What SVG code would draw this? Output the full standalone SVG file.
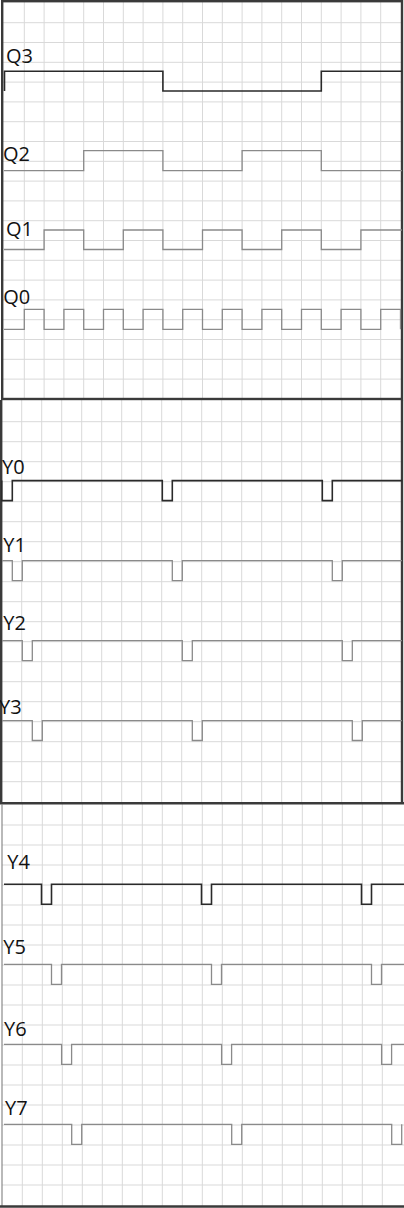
<svg xmlns="http://www.w3.org/2000/svg" width="404" height="1208" viewBox="0 0 404 1208">
<style>
.bg{fill:#ffffff}
.grid{stroke:#d9d9d9;stroke-width:1;fill:none}
.frame{stroke:#3a3a3a;stroke-width:2.4;fill:none}
.sig1{stroke:#2a2a2a;stroke-width:1.6;fill:none}
.sig{stroke:#8a8a8a;stroke-width:1.3;fill:none}
.lbl{font-family:"Open Sans","Liberation Sans",sans-serif;font-size:20px;fill:#111}
</style>
<rect class="bg" x="0" y="0" width="404" height="1208"/>
<g id="grid">
<path class="grid" d="M24.3,2V399M44.1,2V399M63.9,2V399M83.7,2V399M103.5,2V399M123.3,2V399M143.1,2V399M162.9,2V399M182.7,2V399M202.5,2V399M222.3,2V399M242.1,2V399M261.9,2V399M281.7,2V399M301.5,2V399M321.3,2V399M341.1,2V399M360.9,2V399M380.7,2V399M3,22.7H402M3,42.5H402M3,62.3H402M3,82.1H402M3,101.9H402M3,121.7H402M3,141.5H402M3,161.3H402M3,181.1H402M3,200.9H402M3,220.7H402M3,240.5H402M3,260.3H402M3,280.1H402M3,299.9H402M3,319.7H402M3,339.5H402M3,359.3H402M3,379.1H402"/>
<path class="grid" d="M21.7,400V803M41.7,400V803M61.7,400V803M81.7,400V803M101.7,400V803M121.7,400V803M141.7,400V803M161.7,400V803M181.7,400V803M201.7,400V803M221.7,400V803M241.7,400V803M261.7,400V803M281.7,400V803M301.7,400V803M321.7,400V803M341.7,400V803M361.7,400V803M381.7,400V803M1,421.7H402M1,441.7H402M1,461.7H402M1,481.7H402M1,501.7H402M1,521.7H402M1,541.7H402M1,561.7H402M1,581.7H402M1,601.7H402M1,621.7H402M1,641.7H402M1,661.7H402M1,681.7H402M1,701.7H402M1,721.7H402M1,741.7H402M1,761.7H402M1,781.7H402"/>
<path class="grid" d="M22.3,804V1206M42.3,804V1206M62.3,804V1206M82.3,804V1206M102.3,804V1206M122.3,804V1206M142.3,804V1206M162.3,804V1206M182.3,804V1206M202.3,804V1206M222.3,804V1206M242.3,804V1206M262.3,804V1206M282.3,804V1206M302.3,804V1206M322.3,804V1206M342.3,804V1206M362.3,804V1206M382.3,804V1206M2,825H404M2,845H404M2,865H404M2,885H404M2,905H404M2,925H404M2,945H404M2,965H404M2,985H404M2,1005H404M2,1025H404M2,1045H404M2,1065H404M2,1085H404M2,1105H404M2,1125H404M2,1145H404M2,1165H404M2,1185H404"/>
</g>
<g id="frames">
<rect class="frame" x="2.2" y="1.2" width="399.8" height="397.8"/>
<path class="frame" d="M1.2,400V803.3M402,400V803.3M0,803.3H404"/>
<path d="M2,804V1206" stroke="#8a8a8a" stroke-width="1.2" fill="none"/>
<path class="frame" d="M0,1206.5H404"/>
</g>
<g id="Q3"><text class="lbl" x="6" y="63">Q3</text><path class="sig1" d="M4.5,91V71.3H162.9V91H321.3V71.3H402"/></g>
<g id="Q2"><text class="lbl" x="3" y="161">Q2</text><path class="sig" d="M4,170.7H83.7V150.7H162.9V170.7H242.1V150.7H321.3V170.7H402"/></g>
<g id="Q1"><text class="lbl" x="6" y="236">Q1</text><path class="sig" d="M4,249.5H44.1V230H83.7V249.5H123.3V230H162.9V249.5H202.5V230H242.1V249.5H281.7V230H321.3V249.5H360.9V230H402"/></g>
<g id="Q0"><text class="lbl" x="3.3" y="304">Q0</text><path class="sig" d="M4,329.3H24.3V309.3H44.1V329.3H63.9V309.3H83.7V329.3H103.5V309.3H123.3V329.3H143.1V309.3H162.9V329.3H182.7V309.3H202.5V329.3H222.3V309.3H242.1V329.3H261.9V309.3H281.7V329.3H301.5V309.3H321.3V329.3H341.1V309.3H360.9V329.3H380.7V309.3H400.5V329.3"/></g>
<g id="Y0"><text class="lbl" x="2" y="474">Y0</text><path class="sig1" d="M1.7,480.6V500.6H12.3V480.6H162.3V500.6H172.3V480.6H322.3V500.6H332.3V480.6H402"/></g>
<g id="Y1"><text class="lbl" x="3.3" y="551.5">Y1</text><path class="sig" d="M2,560.7H12.3V580.7H22.3V560.7H172.3V580.7H182.3V560.7H332.3V580.7H342.3V560.7H402"/></g>
<g id="Y2"><text class="lbl" x="3.3" y="630">Y2</text><path class="sig" d="M2,640.7H22.3V660.7H32.3V640.7H182.3V660.7H192.3V640.7H342.3V660.7H352.3V640.7H402"/></g>
<g id="Y3"><text class="lbl" x="-1" y="714">Y3</text><path class="sig" d="M2,720.7H32.3V740.5H42.3V720.7H192.3V740.5H202.3V720.7H352.3V740.5H362.3V720.7H402"/></g>
<g id="Y4"><text class="lbl" x="7.3" y="869">Y4</text><path class="sig1" d="M4,884.3H41.5V904.3H51.5V884.3H201.5V904.3H211.5V884.3H361.5V904.3H371.5V884.3H404"/></g>
<g id="Y5"><text class="lbl" x="3.3" y="954">Y5</text><path class="sig" d="M4,964.3H51.5V984.3H61.5V964.3H211.5V984.3H221.5V964.3H371.5V984.3H381.5V964.3H404"/></g>
<g id="Y6"><text class="lbl" x="4" y="1036">Y6</text><path class="sig" d="M4,1044.3H61.6V1064.3H71.6V1044.3H221.6V1064.3H231.6V1044.3H381.6V1064.3H391.6V1044.3H404"/></g>
<g id="Y7"><text class="lbl" x="5" y="1115">Y7</text><path class="sig" d="M4,1124.3H71.7V1144.3H81.7V1124.3H231.7V1144.3H241.7V1124.3H391.7V1144.3H401.7V1124.3"/></g>
</svg>
